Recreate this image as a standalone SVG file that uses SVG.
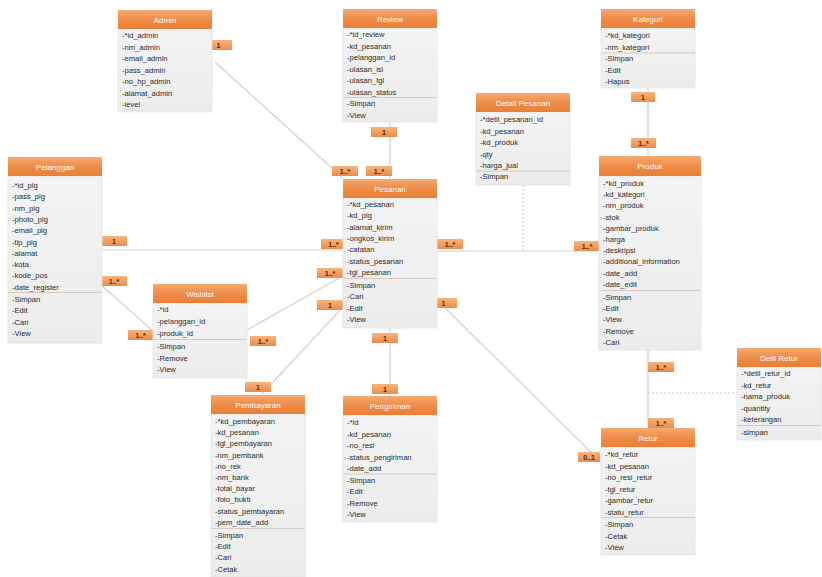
<svg xmlns="http://www.w3.org/2000/svg" width="822" height="577" viewBox="0 0 822 577">
<defs>
<linearGradient id="hg" x1="0" y1="0" x2="0" y2="1">
<stop offset="0" stop-color="#f4ab74"/>
<stop offset="0.5" stop-color="#ee8c48"/>
<stop offset="1" stop-color="#e97f36"/>
</linearGradient>
<linearGradient id="bg" x1="0" y1="0" x2="0" y2="1">
<stop offset="0" stop-color="#f3f3f3"/>
<stop offset="1" stop-color="#ececec"/>
</linearGradient>
<linearGradient id="lg" x1="0" y1="0" x2="0" y2="1">
<stop offset="0" stop-color="#f6b47e"/>
<stop offset="1" stop-color="#ec8c4a"/>
</linearGradient>
</defs>
<style>
.hdr{fill:url(#hg)}
.bdy{fill:url(#bg);stroke:#e4e4e4;stroke-width:0.8}
.ttl{font-family:"Liberation Sans",Arial,sans-serif;font-size:8px;fill:#ffffff;text-anchor:middle}
.at{font-family:"Liberation Sans",Arial,sans-serif;font-size:7.6px;fill:#2a2a2a}
.dv{stroke:#d7c9bf;stroke-width:1}
.lb{fill:url(#lg)}
.lt{font-family:"Liberation Sans",Arial,sans-serif;font-size:7px;font-weight:bold;fill:#4a2a10;text-anchor:middle}
.con{stroke:#dacfc5;stroke-width:1.2;fill:none}
.dash{stroke:#cfc5bb;stroke-width:1;fill:none;stroke-dasharray:2 2}
</style>
<rect width="822" height="577" fill="#ffffff"/>

<g id="connectors">
<line class="con" x1="215" y1="62" x2="343" y2="178"/>
<line class="con" x1="390" y1="122" x2="390" y2="179"/>
<line class="con" x1="648" y1="88" x2="648" y2="156"/>
<line class="con" x1="102" y1="250" x2="343" y2="250"/>
<line class="con" x1="437" y1="251" x2="599" y2="251"/>
<line class="dash" x1="523" y1="185" x2="523" y2="251"/>
<line class="con" x1="100" y1="284" x2="153" y2="331"/>
<line class="con" x1="247" y1="330" x2="343" y2="276"/>
<line class="con" x1="262" y1="394" x2="343" y2="307"/>
<line class="con" x1="390" y1="328" x2="390" y2="396"/>
<line class="con" x1="437" y1="300" x2="601" y2="462"/>
<line class="con" x1="648" y1="350" x2="648" y2="428"/>
<line class="dash" x1="648" y1="393" x2="737" y2="393"/>
</g>

<g id="labels">
<rect class="lb" x="205" y="40" width="27" height="10"/><text class="lt" x="218.5" y="48">1</text>
<rect class="lb" x="332" y="166" width="26" height="10"/><text class="lt" x="345" y="174">1..*</text>
<rect class="lb" x="366" y="166" width="26" height="10"/><text class="lt" x="379" y="174">1..*</text>
<rect class="lb" x="371" y="127" width="26" height="10"/><text class="lt" x="384" y="135">1</text>
<rect class="lb" x="631" y="92" width="24" height="10"/><text class="lt" x="643" y="100">1</text>
<rect class="lb" x="631" y="138" width="25" height="10"/><text class="lt" x="643.5" y="146">1..*</text>
<rect class="lb" x="101" y="236" width="26" height="10"/><text class="lt" x="114" y="244">1</text>
<rect class="lb" x="101" y="276" width="26" height="10"/><text class="lt" x="114" y="284">1..*</text>
<rect class="lb" x="128" y="330" width="25" height="10"/><text class="lt" x="140.5" y="338">1..*</text>
<rect class="lb" x="321" y="239" width="25" height="10"/><text class="lt" x="333.5" y="247">1..*</text>
<rect class="lb" x="317" y="268" width="26" height="10"/><text class="lt" x="330" y="276">1..*</text>
<rect class="lb" x="317" y="300" width="26" height="10"/><text class="lt" x="330" y="308">1</text>
<rect class="lb" x="250" y="336" width="26" height="10"/><text class="lt" x="263" y="344">1..*</text>
<rect class="lb" x="437" y="239" width="26" height="10"/><text class="lt" x="450" y="247">1..*</text>
<rect class="lb" x="430" y="298" width="27" height="10"/><text class="lt" x="443.5" y="306">1</text>
<rect class="lb" x="574" y="241" width="26" height="10"/><text class="lt" x="587" y="249">1..*</text>
<rect class="lb" x="372" y="333" width="26" height="10"/><text class="lt" x="385" y="341">1</text>
<rect class="lb" x="245" y="382" width="26" height="10"/><text class="lt" x="258" y="390">1</text>
<rect class="lb" x="372" y="384" width="26" height="10"/><text class="lt" x="385" y="392">1</text>
<rect class="lb" x="648" y="362" width="26" height="10"/><text class="lt" x="661" y="370">1..*</text>
<rect class="lb" x="648" y="418" width="26" height="10"/><text class="lt" x="661" y="426">1..*</text>
<rect class="lb" x="578" y="452" width="22" height="10"/><text class="lt" x="589" y="460">0..1</text>
</g>

<g id="admin">
<rect class="bdy" x="118" y="29" width="94" height="83"/>
<rect class="hdr" x="118" y="10" width="94" height="19"/>
<text class="ttl" x="165" y="22.5">Admin</text>
<text class="at" x="122" y="38">-*id_admin</text>
<text class="at" x="122" y="49.5">-nm_admin</text>
<text class="at" x="122" y="61">-email_admin</text>
<text class="at" x="122" y="72.5">-pass_admin</text>
<text class="at" x="122" y="84">-no_hp_admin</text>
<text class="at" x="122" y="95.5">-alamat_admin</text>
<text class="at" x="122" y="107">-level</text>
</g>

<g id="review">
<rect class="bdy" x="343" y="28" width="94" height="94"/>
<rect class="hdr" x="343" y="9" width="94" height="19"/>
<text class="ttl" x="390" y="21.5">Review</text>
<text class="at" x="347" y="37">-*id_review</text>
<text class="at" x="347" y="48.5">-kd_pesanan</text>
<text class="at" x="347" y="60">-pelanggan_id</text>
<text class="at" x="347" y="71.5">-ulasan_isi</text>
<text class="at" x="347" y="83">-ulasan_tgl</text>
<text class="at" x="347" y="94.5">-ulasan_status</text>
<line class="dv" x1="343" y1="97.5" x2="437" y2="97.5"/>
<text class="at" x="347" y="106">-Simpan</text>
<text class="at" x="347" y="117.5">-View</text>
</g>

<g id="kategori">
<rect class="bdy" x="601" y="28" width="94" height="60"/>
<rect class="hdr" x="601" y="9" width="94" height="19"/>
<text class="ttl" x="648" y="21.5">Kategori</text>
<text class="at" x="605" y="38">-*kd_kategori</text>
<text class="at" x="605" y="50">-nm_kategori</text>
<line class="dv" x1="601" y1="53" x2="695" y2="53"/>
<text class="at" x="605" y="61">-Simpan</text>
<text class="at" x="605" y="73">-Edit</text>
<text class="at" x="605" y="84">-Hapus</text>
</g>

<g id="detail-pesanan">
<rect class="bdy" x="476" y="112" width="94" height="73"/>
<rect class="hdr" x="476" y="93" width="94" height="19"/>
<text class="ttl" x="523" y="105.5">Detail Pesanan</text>
<text class="at" x="480" y="122">-*detil_pesanan_id</text>
<text class="at" x="480" y="133.5">-kd_pesanan</text>
<text class="at" x="480" y="145">-kd_produk</text>
<text class="at" x="480" y="156.5">-qty</text>
<text class="at" x="480" y="168">-harga_jual</text>
<line class="dv" x1="476" y1="171" x2="570" y2="171"/>
<text class="at" x="480" y="179">-Simpan</text>
</g>

<g id="pelanggan">
<rect class="bdy" x="8" y="176" width="94" height="167"/>
<rect class="hdr" x="8" y="157" width="94" height="19"/>
<text class="ttl" x="55" y="169.5">Pelanggan</text>
<text class="at" x="12" y="188">-*id_plg</text>
<text class="at" x="12" y="199.3">-pass_plg</text>
<text class="at" x="12" y="210.6">-nm_plg</text>
<text class="at" x="12" y="221.9">-photo_plg</text>
<text class="at" x="12" y="233.2">-email_plg</text>
<text class="at" x="12" y="244.5">-tlp_plg</text>
<text class="at" x="12" y="255.8">-alamat</text>
<text class="at" x="12" y="267.1">-kota</text>
<text class="at" x="12" y="278.4">-kode_pos</text>
<text class="at" x="12" y="289.7">-date_register</text>
<line class="dv" x1="8" y1="292.5" x2="102" y2="292.5"/>
<text class="at" x="12" y="302">-Simpan</text>
<text class="at" x="12" y="313.3">-Edit</text>
<text class="at" x="12" y="324.6">-Cari</text>
<text class="at" x="12" y="335.9">-View</text>
</g>

<g id="pesanan">
<rect class="bdy" x="343" y="198" width="94" height="130"/>
<rect class="hdr" x="343" y="179" width="94" height="19"/>
<text class="ttl" x="390" y="191.5">Pesanan</text>
<text class="at" x="347" y="207">-*kd_pesanan</text>
<text class="at" x="347" y="218.3">-kd_plg</text>
<text class="at" x="347" y="229.6">-alamat_kirim</text>
<text class="at" x="347" y="240.9">-ongkos_kirim</text>
<text class="at" x="347" y="252.2">-catatan</text>
<text class="at" x="347" y="263.5">-status_pesanan</text>
<text class="at" x="347" y="274.8">-tgl_pesanan</text>
<line class="dv" x1="343" y1="278.5" x2="437" y2="278.5"/>
<text class="at" x="347" y="288">-Simpan</text>
<text class="at" x="347" y="299.3">-Cari</text>
<text class="at" x="347" y="310.6">-Edit</text>
<text class="at" x="347" y="321.9">-View</text>
</g>

<g id="produk">
<rect class="bdy" x="599" y="176" width="102" height="174"/>
<rect class="hdr" x="599" y="156" width="102" height="20"/>
<text class="ttl" x="650" y="169">Produk</text>
<text class="at" x="603" y="186">-*kd_produk</text>
<text class="at" x="603" y="197.2">-kd_kategori</text>
<text class="at" x="603" y="208.4">-nm_produk</text>
<text class="at" x="603" y="219.6">-stok</text>
<text class="at" x="603" y="230.8">-gambar_produk</text>
<text class="at" x="603" y="242">-harga</text>
<text class="at" x="603" y="253.2">-deskripsi</text>
<text class="at" x="603" y="264.4">-additional_information</text>
<text class="at" x="603" y="275.6">-date_add</text>
<text class="at" x="603" y="286.8">-date_edit</text>
<line class="dv" x1="599" y1="290.5" x2="701" y2="290.5"/>
<text class="at" x="603" y="300">-Simpan</text>
<text class="at" x="603" y="311.2">-Edit</text>
<text class="at" x="603" y="322.4">-View</text>
<text class="at" x="603" y="333.6">-Remove</text>
<text class="at" x="603" y="344.8">-Cari</text>
</g>

<g id="wishlist">
<rect class="bdy" x="153" y="303" width="94" height="75"/>
<rect class="hdr" x="153" y="284" width="94" height="19"/>
<text class="ttl" x="200" y="296.5">Wishlist</text>
<text class="at" x="157" y="312">-*id</text>
<text class="at" x="157" y="324">-pelanggan_id</text>
<text class="at" x="157" y="336">-produk_id</text>
<line class="dv" x1="153" y1="339.5" x2="247" y2="339.5"/>
<text class="at" x="157" y="349">-Simpan</text>
<text class="at" x="157" y="360.5">-Remove</text>
<text class="at" x="157" y="372">-View</text>
</g>

<g id="pembayaran">
<rect class="bdy" x="211" y="414" width="94" height="163"/>
<rect class="hdr" x="211" y="395" width="94" height="19"/>
<text class="ttl" x="258" y="407.5">Pembayaran</text>
<text class="at" x="215" y="424">-*kd_pembayaran</text>
<text class="at" x="215" y="435.2">-kd_pesanan</text>
<text class="at" x="215" y="446.4">-tgl_pembayaran</text>
<text class="at" x="215" y="457.6">-nm_pembank</text>
<text class="at" x="215" y="468.8">-no_rek</text>
<text class="at" x="215" y="480">-nm_bank</text>
<text class="at" x="215" y="491.2">-total_bayar</text>
<text class="at" x="215" y="502.4">-foto_bukti</text>
<text class="at" x="215" y="513.6">-status_pembayaran</text>
<text class="at" x="215" y="524.8">-pem_date_add</text>
<line class="dv" x1="211" y1="528.5" x2="305" y2="528.5"/>
<text class="at" x="215" y="538">-Simpan</text>
<text class="at" x="215" y="549.2">-Edit</text>
<text class="at" x="215" y="560.4">-Cari</text>
<text class="at" x="215" y="571.6">-Cetak</text>
</g>

<g id="pengiriman">
<rect class="bdy" x="343" y="415" width="94" height="107"/>
<rect class="hdr" x="343" y="396" width="94" height="19"/>
<text class="ttl" x="390" y="408.5">Pengiriman</text>
<text class="at" x="347" y="425">-*id</text>
<text class="at" x="347" y="436.5">-kd_pesanan</text>
<text class="at" x="347" y="448">-no_resi</text>
<text class="at" x="347" y="459.5">-status_pengiriman</text>
<text class="at" x="347" y="471">-date_add</text>
<line class="dv" x1="343" y1="474" x2="437" y2="474"/>
<text class="at" x="347" y="483">-Simpan</text>
<text class="at" x="347" y="494.3">-Edit</text>
<text class="at" x="347" y="505.6">-Remove</text>
<text class="at" x="347" y="517">-View</text>
</g>

<g id="detil-retur">
<rect class="bdy" x="737" y="367" width="84" height="73"/>
<rect class="hdr" x="737" y="348" width="84" height="19"/>
<text class="ttl" x="779" y="360.5">Detil Retur</text>
<text class="at" x="741" y="376">-*detil_retur_id</text>
<text class="at" x="741" y="387.5">-kd_retur</text>
<text class="at" x="741" y="399">-nama_produk</text>
<text class="at" x="741" y="410.5">-quantity</text>
<text class="at" x="741" y="422">-keterangan</text>
<line class="dv" x1="737" y1="425.5" x2="821" y2="425.5"/>
<text class="at" x="741" y="435">-simpan</text>
</g>

<g id="retur">
<rect class="bdy" x="601" y="447" width="94" height="108"/>
<rect class="hdr" x="601" y="428" width="94" height="19"/>
<text class="ttl" x="648" y="440.5">Retur</text>
<text class="at" x="605" y="457">-*kd_retur</text>
<text class="at" x="605" y="468.5">-kd_pesanan</text>
<text class="at" x="605" y="480">-no_resi_retur</text>
<text class="at" x="605" y="491.5">-tgl_retur</text>
<text class="at" x="605" y="503">-gambar_retur</text>
<text class="at" x="605" y="514.5">-statu_retur</text>
<line class="dv" x1="601" y1="517.5" x2="695" y2="517.5"/>
<text class="at" x="605" y="527">-Simpan</text>
<text class="at" x="605" y="538.5">-Cetak</text>
<text class="at" x="605" y="550">-View</text>
</g>
</svg>
